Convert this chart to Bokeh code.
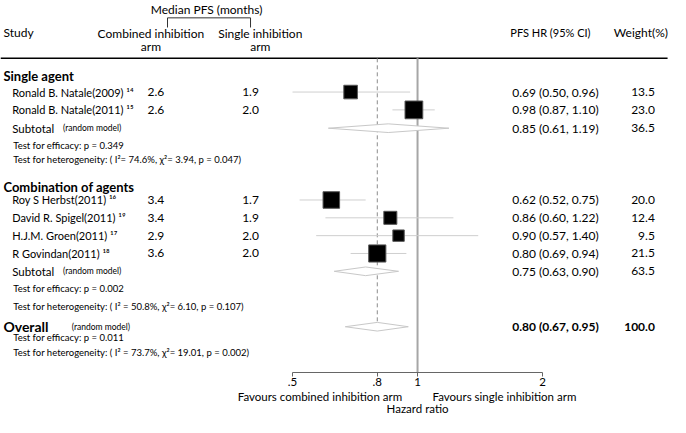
import numpy as np
from bokeh.plotting import figure
from bokeh.models import Range1d, LinearScale, LogAxis, FixedTicker, ColumnDataSource
from bokeh.core.properties import value
from bokeh.embed import file_html
from bokeh.resources import INLINE

# ---------------- data ----------------
studies = ["Ronald B. Natale(2009) \u00b9\u2074", "Ronald B. Natale(2011) \u00b9\u2075",
           "Roy S Herbst(2011) \u00b9\u2076", "David R. Spigel(2011) \u00b9\u2079",
           "H.J.M. Groen(2011) \u00b9\u2077", "R Govindan(2011) \u00b9\u2078"]
study_group = [0, 0, 1, 1, 1, 1]
combined_pfs = ["2.6", "2.6", "3.4", "3.4", "2.9", "3.6"]
single_pfs = ["1.9", "2.0", "1.7", "1.9", "2.0", "2.0"]
hr = [0.69, 0.98, 0.62, 0.86, 0.90, 0.80]
hr_lo = [0.50, 0.87, 0.52, 0.60, 0.57, 0.69]
hr_hi = [0.96, 1.10, 0.75, 1.22, 1.40, 0.94]
weight = [13.5, 23.0, 20.0, 12.4, 9.5, 21.5]

groups = ["Single agent", "Combination of agents"]
sub_hr = [0.85, 0.75]
sub_lo = [0.61, 0.63]
sub_hi = [1.19, 0.90]
sub_w = [36.5, 63.5]
sub_eff = ["Test for efficacy: p = 0.349", "Test for efficacy: p = 0.002"]
sub_het = ["Test for heterogeneity: ( I\u00b2= 74.6%, \u03c7\u00b2= 3.94, p = 0.047)",
           "Test for heterogeneity: ( I\u00b2 = 50.8%, \u03c7\u00b2= 6.10, p = 0.107)"]

overall_hr = 0.80
overall_lo = 0.67
overall_hi = 0.95
overall_w = 100.0
overall_eff = "Test for efficacy: p = 0.011"
overall_het = "Test for heterogeneity: ( I\u00b2 = 73.7%, \u03c7\u00b2= 19.01, p = 0.002)"

ticks = [0.5, 0.8, 1, 2]
tick_labels = [".5", ".8", "1", "2"]

# ---------------- layout (reference pixel grid) ----------------
W, H = 670, 417
REF_W = 686
AX_TOP, AX_BOT = 0, 386          # frame spans these reference rows
PX05, PX2 = 299, 555             # reference pixel of .5 and 2
k = np.log(4) / (PX2 - PX05)
def px2val(px):
    return float(0.5 * np.exp((px - PX05) * k))

FONT = "Lato"
f = value(FONT)

p = figure(width=W, height=H, x_axis_type="log",
           x_range=Range1d(px2val(0), px2val(REF_W)),
           y_range=Range1d(AX_BOT, AX_TOP),
           output_backend="svg", toolbar_location=None,
           y_axis_location=None, min_border=0)
p.extra_x_ranges = {"px": Range1d(0, REF_W)}
p.extra_x_scales = {"px": LinearScale()}
p.outline_line_color = None
p.grid.visible = False
p.background_fill_color = "white"

# row positions (reference px)
sec_rows = {0: [95, 113.5], 1: [207, 225.5, 244, 262.5]}
header_y = [78, 193]
sub_y = [132.5, 281]
eff_y = [150, 299]
het_y = [165, 317]
ov_y = 338.5
ov_eff_y = 350
ov_het_y = 365

row_y = []
cnt = {0: 0, 1: 0}
for g in study_group:
    row_y.append(sec_rows[g][cnt[g]])
    cnt[g] += 1

def txt(xs, ys, texts, size, align="left", bold=False, color="black"):
    src = ColumnDataSource(dict(x=xs, y=ys, t=texts))
    p.text(x="x", y="y", text="t", source=src, x_range_name="px",
           text_font=f, text_font_size=size, text_align=align,
           text_baseline="middle", text_color=color,
           text_font_style="bold" if bold else "normal")

# header
txt([211], [9], ["Median PFS (months)"], "12px", "center")
txt([3], [33], ["Study"], "12px")
txt([154, 154], [34, 48], ["Combined inhibition", "arm"], "12px", "center")
txt([266, 266], [34, 48], ["Single inhibition", "arm"], "12px", "center")
txt([522], [33], ["PFS HR (95% CI)"], "11px")
txt([628], [33], ["Weight(%)"], "12px")
p.multi_line(xs=[[171, 171, 256, 256]], ys=[[28, 18, 18, 28]], x_range_name="px",
             line_color="#333333", line_width=1)
p.segment(x0=[0], x1=[683], y0=[60], y1=[60], x_range_name="px",
          line_color="black", line_width=1.5)

# reference lines
p.segment(x0=[overall_hr], x1=[overall_hr], y0=[60], y1=[ov_y - 4.5],
          line_color="#8c8c8c", line_width=1, line_dash="4 3")
p.segment(x0=[1], x1=[1], y0=[60], y1=[AX_BOT],
          line_color="#a6a6a6", line_width=2)

# studies
txt([3] * 2, header_y, groups, "13px", bold=True)
txt([12] * len(studies), row_y, studies, "11px")
txt([159] * len(studies), row_y, combined_pfs, "12px", "center")
txt([256] * len(studies), row_y, single_pfs, "12px", "center")
txt([524] * len(studies), row_y,
    [f"{h:.2f} ({l:.2f}, {u:.2f})" for h, l, u in zip(hr, hr_lo, hr_hi)], "12px")
txt([670] * len(studies), row_y, [f"{w:.1f}" for w in weight], "12px", "right")

p.segment(x0=hr_lo, x1=hr_hi, y0=row_y, y1=row_y, line_color="#cfcfcf", line_width=1)
p.scatter(x=hr, y=row_y, size=[3.7 * np.sqrt(w) for w in weight], marker="square",
          fill_color="black", line_color="#555555", line_width=1)

# subtotals
txt([12] * 2, sub_y, ["Subtotal"] * 2, "11.5px")
txt([64] * 2, sub_y, ["(random model)"] * 2, "8.5px")
txt([13] * 2, eff_y, sub_eff, "9.5px")
txt([13] * 2, het_y, sub_het, "9.5px")
txt([524] * 2, sub_y, [f"{h:.2f} ({l:.2f}, {u:.2f})" for h, l, u in zip(sub_hr, sub_lo, sub_hi)], "12px")
txt([670] * 2, sub_y, [f"{w:.1f}" for w in sub_w], "12px", "right")
dh = 4.5
p.patches(xs=[[l, h, u, h] for h, l, u in zip(sub_hr, sub_lo, sub_hi)],
          ys=[[y, y - dh, y, y + dh] for y in sub_y],
          fill_color="white", line_color="#c8c8c8", line_width=1)

# overall
txt([3], [ov_y], ["Overall"], "14px", bold=True)
txt([73], [ov_y], ["(random model)"], "8.5px")
txt([13], [ov_eff_y], [overall_eff], "9.5px")
txt([13], [ov_het_y], [overall_het], "9.5px")
txt([524], [ov_y], [f"{overall_hr:.2f} ({overall_lo:.2f}, {overall_hi:.2f})"], "12px", bold=True)
txt([670], [ov_y], [f"{overall_w:.1f}"], "12px", "right", bold=True)
p.patches(xs=[[overall_lo, overall_hr, overall_hi, overall_hr]],
          ys=[[ov_y, ov_y - dh, ov_y, ov_y + dh]],
          fill_color="white", line_color="#c8c8c8", line_width=1)

# axes
ax = p.xaxis[0]
ax.ticker = FixedTicker(ticks=ticks)
ax.major_label_overrides = {t: l for t, l in zip(ticks, tick_labels)}
ax.bounds = (ticks[0], ticks[-1])
ax.axis_line_color = "#666666"
ax.major_tick_line_color = "#666666"
ax.major_tick_in = 0
ax.major_tick_out = 4
ax.minor_tick_line_color = None
ax.major_label_standoff = 1
ax.major_label_text_font = FONT
ax.major_label_text_font_size = "11.5px"
ax.major_label_text_color = "black"
ax.major_label_text_line_height = 1.0

fav_ticks = [round(px2val(327), 3), 1, round(px2val(516), 3)]
fav_labels = ["Favours combined inhibition arm", "\nHazard ratio", "Favours single inhibition arm"]
ax2 = LogAxis(ticker=FixedTicker(ticks=fav_ticks),
              major_label_overrides={t: l for t, l in zip(fav_ticks, fav_labels)},
              axis_line_color=None, major_tick_line_color=None, minor_tick_line_color=None,
              major_tick_out=0, major_tick_in=0, major_label_standoff=1,
              major_label_text_font=FONT, major_label_text_font_size="11.5px",
              major_label_text_color="black", major_label_text_line_height=0.95)
p.add_layout(ax2, "below")

open("out.html", "w").write(file_html(p, INLINE))
